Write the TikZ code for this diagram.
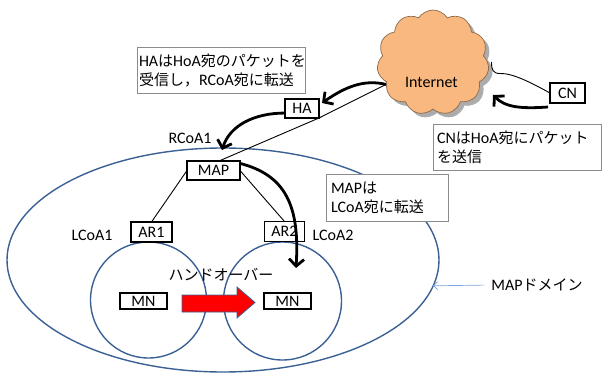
\documentclass[tikz,border=0pt]{standalone}
\usepackage{fontspec}
\setmainfont{Carlito}
\newfontfamily\jp{Noto Sans CJK JP}[Scale=0.9375]
\usetikzlibrary{shapes.geometric,shapes.symbols,shadows,arrows.meta,calc}
\definecolor{ringblue}{HTML}{3B6194}
\definecolor{cloudfill}{HTML}{F9B880}
\definecolor{cloudline}{HTML}{8C6A4A}
\definecolor{boxgray}{HTML}{8C8C8C}
\definecolor{pointer}{HTML}{7EA6DC}
\begin{document}
\begin{tikzpicture}[x=1pt,y=-1pt,
  font=\fontsize{16}{19}\selectfont,
  ring/.style={draw=ringblue, line width=1.4pt, inner sep=0pt, outer sep=0pt},
  nodebox/.style={draw=black, line width=1.2pt, fill=white, inner sep=0pt, outer sep=0pt},
  textbox/.style={draw=boxgray, line width=1pt, fill=white, inner sep=5pt, align=left, minimum height=46pt},
  thin/.style={draw=black, line width=0.9pt},
  thick/.style={draw=black, line width=2.8pt, -{Straight Barb[length=7pt,width=15pt]}},
  lbl/.style={inner sep=0pt}]
\useasboundingbox (0,0) rectangle (602,374);

% domain and cells
\node[ring, ellipse, minimum width=432pt, minimum height=224pt] (dom) at (223,260) {};
\node[ring, circle, minimum size=116pt] (c1) at (148.5,300) {};
\node[ring, circle, minimum size=118pt] (c2) at (282.5,301) {};

% cloud
\node[cloud, cloud puffs=11, cloud puff arc=115, aspect=1.05, draw=cloudline, line width=0.7pt,
      fill=cloudfill, minimum width=112pt, minimum height=105pt, inner sep=0pt,
      drop shadow={shadow xshift=4pt, shadow yshift=-4pt, fill=gray!65, opacity=1}] (inet) at (433,62.5) {};
\node[lbl] (inettxt) at (431.5,82) {Internet};

% text boxes
\node[textbox, text width=164pt, inner xsep=2pt] (tHA) at (221,70.5) {HA{\jp は}HoA{\jp 宛のパケットを}\\{\jp 受信し，}RCoA{\jp 宛に転送}};
\node[textbox, text width=160pt, inner xsep=4pt] (tCN) at (517,147.5) {CN{\jp は}HoA{\jp 宛にパケット}\\{\jp を送信}};
\node[textbox, text width=112pt] (tMAP) at (387,198) {MAP{\jp は}\\LCoA{\jp 宛に転送}};

% boxes
\node[nodebox, minimum width=34pt, minimum height=19pt] (HA) at (302,108.5) {HA};
\node[nodebox, minimum width=53pt, minimum height=19pt] (MAP) at (213.5,170.5) {MAP};
\node[nodebox, minimum width=41pt, minimum height=20pt] (AR1) at (151.5,232) {AR1};
\node[nodebox, minimum width=40pt, minimum height=20pt] (AR2) at (284.5,231.5) {AR2};
\node[nodebox, minimum width=47pt, minimum height=16pt] (MN1) at (143.5,301) {MN};
\node[nodebox, minimum width=47pt, minimum height=16pt] (MN2) at (287.5,301) {MN};
\node[nodebox, minimum width=35pt, minimum height=20pt] (CN) at (567.5,93) {CN};

% labels
\node[lbl] (rcoa) at (190,138) {RCoA1};
\node[lbl] (lcoa1) at (92,235) {LCoA1};
\node[lbl] (lcoa2) at (333,235) {LCoA2};
\node[lbl] (ho) at (221,275) {\jp ハンドオーバー};
\node[lbl] (dmlbl) at (537,285) {MAP{\jp ドメイン}};

% thin connectors
\draw[thin] (inet.205) -- (HA.south east);
\draw[thin] (HA.south east) -- (MAP.60);
\draw[thin] (MAP.west) -- (AR1.north);
\draw[thin] (MAP.east) -- (AR2.north);
\coordinate (inhook) at (491.5,62);
\draw[thin] (CN.west) .. controls (530,82) and (512,73) .. (500,73.5)
  .. controls (493,73.5) and (491.5,70) .. (inhook);

% pointer to domain
\draw[pointer, line width=0.7pt, shorten <=7pt, -{Straight Barb[length=4pt,width=8pt]}] (dmlbl.west) -- (dom.-7.6);

% thick flow arrows
\coordinate (haTip) at (322,103);
\coordinate (mapTip) at (222,150);
\coordinate (mnTip) at (296,268);
\coordinate (cnStart) at (548,107);
\coordinate (inTip) at (493,95);
\draw[thick] (inet.205) .. controls (364,79) and (345,87) .. (haTip);
\draw[thick] (HA.195) .. controls (255,113) and (230,125) .. (mapTip);
\draw[thick] (MAP.15) .. controls (285,175) and (300,205) .. (mnTip);
\draw[thick] (cnStart) .. controls (520,109) and (505,107) .. (inTip);

% handover block arrow
\draw[fill=red, draw=ringblue, line width=0.8pt]
  (182,295) -- (237,295) -- (237,287) -- (255,302.5) -- (237,318) -- (237,312) -- (182,312) -- cycle;
\end{tikzpicture}
\end{document}
